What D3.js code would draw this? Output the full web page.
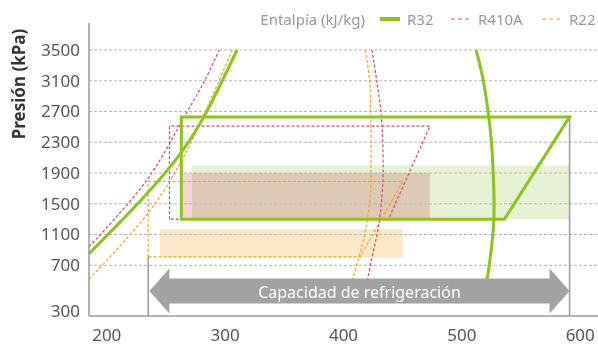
<!DOCTYPE html>
<html>
<head>
<meta charset="utf-8">
<script src="https://cdn.jsdelivr.net/npm/d3@7"></script>
<style>
  body { margin: 0; background: #fff; }
  svg { font-family: "Noto Sans", sans-serif; }
</style>
</head>
<body>
<div id="chart"></div>
<script>
// Tick values
const pressureTicks = [300, 700, 1100, 1500, 1900, 2300, 2700, 3100, 3500];
const enthalpyTicks = [200, 300, 400, 500, 600];

// Saturation curves [enthalpy kJ/kg, pressure kPa]
const r32Liquid = [[185, 850], [235, 1650], [263, 2170], [282, 2630], [310, 3500]];
const r32Vapor = [[512, 3500], [518, 3110], [524, 2460], [526.5, 1900], [527, 1290], [522.5, 660], [518, 430]];
const r410aLiquid = [[185, 940], [234, 1810], [268, 2700], [283, 3110], [295, 3500]];
const r410aVapor = [[424, 3500], [428, 3110], [432, 2630], [433.5, 1980], [432.5, 1600], [429, 1150], [424, 800], [417, 430]];
const r22Liquid = [[185, 590], [235, 1380], [265, 2110], [306, 3500]];
const r22Vapor = [[418.5, 3500], [422, 3110], [423, 2630], [423.3, 1980], [422.5, 1600], [418.5, 1150], [413, 800], [402, 430]];

// Refrigeration cycles
const r32Cycle = [[263, 1300], [263, 2630], [591, 2630], [536, 1300]];
const r410aCycle = [[253, 1300], [253, 2510], [473, 2510], [438, 1300]];
const r22Cycle = [[235, 810], [235, 1790], [450, 1790], [414, 810]];

// Capacity bands: [h0, h1, p0, p1]
const r32Band = [272, 591, 1300, 2000];
const r410aBand = [263, 473, 1300, 1900];
const r22Band = [245, 450, 800, 1170];

// Capacity arrow range (enthalpy)
const capacityRange = [236, 591];

const W = 598, H = 345;
const left = 89, right = 598, bottom = 316;

const svg = d3.select("#chart").append("svg")
    .attr("width", W)
    .attr("height", H);

const x = d3.scaleLinear().domain([185, 615]).range([left, right]);
// 300 sits lower than the regular step
const y = d3.scaleLinear().domain([300, 700, 3500]).range([bottom, 265.3, 50]);

const green = "#8dc21f", red = "#dc4a5c", orange = "#f4a128", grey = "#9a9a9a";

const line = d3.line().x(d => x(d[0])).y(d => y(d[1])).curve(d3.curveCatmullRom);
const poly = d3.line().x(d => x(d[0])).y(d => y(d[1]));

function band(b, fill, blend) {
  svg.append("rect")
    .attr("x", x(b[0]))
    .attr("y", y(b[3]))
    .attr("width", x(b[1]) - x(b[0]))
    .attr("height", y(b[2]) - y(b[3]))
    .attr("fill", fill)
    .style("mix-blend-mode", blend || "normal");
}

// Bands
band(r32Band, "#e7f1d4");
band(r410aBand, "#f6d5da", "multiply");
band(r22Band, "#fbe8c8");

// Grid
svg.append("g")
  .selectAll("line")
  .data(pressureTicks.slice(1))
  .join("line")
    .attr("x1", left)
    .attr("x2", right)
    .attr("y1", d => y(d))
    .attr("y2", d => y(d))
    .attr("stroke", "#b5b5b5")
    .attr("stroke-width", 1)
    .attr("stroke-dasharray", "3,2");

// Cycles
svg.append("path").datum(r22Cycle)
    .attr("d", d => poly(d) + "Z")
    .attr("fill", "none").attr("stroke", orange).attr("stroke-width", 1.2).attr("stroke-dasharray", "3,2");
svg.append("path").datum(r410aCycle)
    .attr("d", d => poly(d) + "Z")
    .attr("fill", "none").attr("stroke", red).attr("stroke-width", 1.2).attr("stroke-dasharray", "3,2");

// Saturation curves
[[r22Liquid, orange], [r22Vapor, orange], [r410aLiquid, red], [r410aVapor, red]].forEach(([d, c]) => {
  svg.append("path").datum(d)
    .attr("d", line)
    .attr("fill", "none")
    .attr("stroke", c)
    .attr("stroke-width", 1.2)
    .attr("stroke-dasharray", "3,2");
});

svg.append("path").datum(r32Cycle)
    .attr("d", d => poly(d) + "Z")
    .attr("fill", "none").attr("stroke", green).attr("stroke-width", 3).attr("stroke-linejoin", "miter");

[r32Liquid, r32Vapor].forEach(d => {
  svg.append("path").datum(d)
    .attr("d", line)
    .attr("fill", "none")
    .attr("stroke", green)
    .attr("stroke-width", 3);
});

// Capacity arrow
const ax0 = x(capacityRange[0]), ax1 = x(capacityRange[1]), ay = 291;
const head = 20, hh = 22.5, bh = 12.5;
svg.append("path")
    .attr("d", `M${ax0},${ay} L${ax0 + head},${ay - hh} L${ax0 + head},${ay - bh} L${ax1 - head},${ay - bh} L${ax1 - head},${ay - hh} L${ax1},${ay} L${ax1 - head},${ay + hh} L${ax1 - head},${ay + bh} L${ax0 + head},${ay + bh} L${ax0 + head},${ay + hh} Z`)
    .attr("fill", "#a2a2a2");
svg.append("text")
    .attr("x", (ax0 + ax1) / 2)
    .attr("y", ay + 7)
    .attr("text-anchor", "middle")
    .attr("fill", "#fff")
    .style("font-size", "16px")
    .text("Capacidad de refrigeración");

// Guide lines
svg.append("line")
    .attr("x1", x(235)).attr("x2", x(235))
    .attr("y1", y(r22Cycle[0][1])).attr("y2", bottom)
    .attr("stroke", grey).attr("stroke-width", 1.5);
svg.append("line")
    .attr("x1", x(591)).attr("x2", x(591))
    .attr("y1", y(r32Cycle[2][1])).attr("y2", bottom)
    .attr("stroke", grey).attr("stroke-width", 1.5);

// Axes
svg.append("line")
    .attr("x1", left).attr("x2", left).attr("y1", 23).attr("y2", bottom)
    .attr("stroke", grey).attr("stroke-width", 1.5);
svg.append("line")
    .attr("x1", left).attr("x2", right).attr("y1", bottom).attr("y2", bottom)
    .attr("stroke", grey).attr("stroke-width", 1.5);

svg.append("g")
  .selectAll("text")
  .data(pressureTicks)
  .join("text")
    .attr("x", 80)
    .attr("y", d => y(d) + (d === 300 ? -5 : 0))
    .attr("dy", "0.35em")
    .attr("text-anchor", "end")
    .attr("fill", "#555")
    .style("font-size", "17px")
    .text(d => d);

svg.append("g")
  .selectAll("text")
  .data(enthalpyTicks)
  .join("text")
    .attr("x", d => x(d))
    .attr("y", 341)
    .attr("text-anchor", "middle")
    .attr("fill", "#555")
    .style("font-size", "17px")
    .text(d => d);

// Y axis label
svg.append("text")
    .attr("transform", "translate(25,84) rotate(-90)")
    .attr("text-anchor", "middle")
    .attr("fill", "#333")
    .style("font-size", "17px")
    .style("font-weight", "bold")
    .text("Presión (kPa)");

// Legend
svg.append("text")
    .attr("x", 365).attr("y", 25)
    .attr("text-anchor", "end")
    .attr("fill", "#999")
    .style("font-size", "15px")
    .text("Entalpía (kJ/kg)");

const legend = [
  {name: "R32", color: green, x: 380, w: 4, dash: null},
  {name: "R410A", color: red, x: 451, w: 1.2, dash: "4,3"},
  {name: "R22", color: orange, x: 542, w: 1.2, dash: "4,3"}
];
legend.forEach(l => {
  svg.append("line")
      .attr("x1", l.x).attr("x2", l.x + 20).attr("y1", 19).attr("y2", 19)
      .attr("stroke", l.color).attr("stroke-width", l.w)
      .attr("stroke-dasharray", l.dash);
  svg.append("text")
      .attr("x", l.x + 27).attr("y", 25)
      .attr("fill", "#999")
      .style("font-size", "15px")
      .text(l.name);
});
</script>
</body>
</html>
